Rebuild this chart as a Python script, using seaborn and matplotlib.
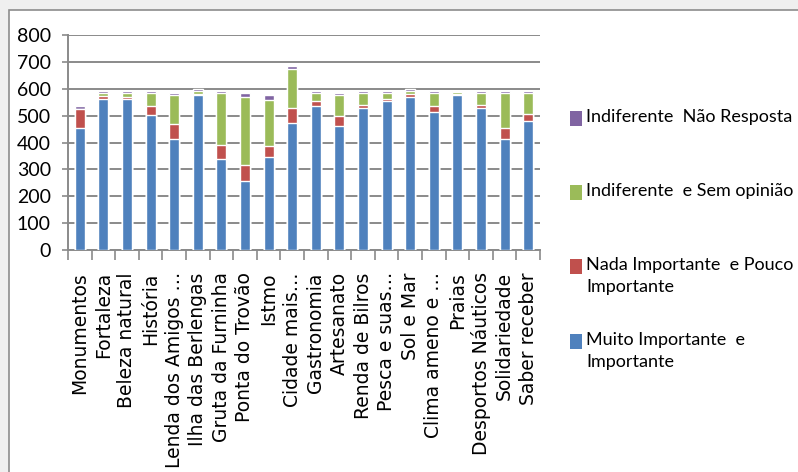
import numpy as np
import pandas as pd
import seaborn as sns
import matplotlib.pyplot as plt
from matplotlib.patches import Rectangle

# Categories (x axis)
categories = [
    "Monumentos", "Fortaleza", "Beleza natural", "História", "Lenda dos Amigos …",
    "Ilha das Berlengas", "Gruta da Furninha", "Ponta do Trovão", "Istmo", "Cidade mais…",
    "Gastronomia", "Artesanato", "Renda de Bilros", "Pesca e suas…", "Sol e Mar",
    "Clima ameno e …", "Praias", "Desportos Náuticos", "Solidariedade", "Saber receber",
]

# Responses per category, one list per answer group
muito_importante = [455, 563, 563, 501, 413, 575, 337, 255, 345, 474,
                    535, 460, 528, 556, 569, 515, 575, 528, 412, 481]
nada_importante = [68, 11, 6, 35, 55, 7, 55, 63, 41, 56,
                   21, 40, 13, 7, 13, 20, 5, 13, 41, 26]
sem_opiniao = [2, 9, 15, 48, 109, 10, 192, 251, 171, 143,
               28, 77, 43, 21, 10, 49, 8, 43, 131, 77]
nao_resposta = [12, 7, 8, 6, 7, 7, 8, 15, 20, 13,
                6, 7, 6, 6, 6, 6, 4, 6, 6, 6]

series_names = [
    "Muito Importante  e\nImportante",
    "Nada Importante  e Pouco\nImportante",
    "Indiferente  e Sem opinião",
    "Indiferente  Não Resposta",
]
colors = ["#4F81BD", "#C0504D", "#9BBB59", "#8064A2"]
y_ticks = [0, 100, 200, 300, 400, 500, 600, 700, 800]

sns.set_theme(style="white")
plt.rcParams["font.family"] = ["DejaVu Sans"]
narrow = ["Lato", "DejaVu Sans"]

W, H = 798, 472
fig = plt.figure(figsize=(W / 100, H / 100), dpi=100)
fig.patch.set_facecolor("#efefef")
fig.patches.append(Rectangle((9 / W, -0.1), 1.2, 1 - 10 / H + 0.1,
                             transform=fig.transFigure, facecolor="white",
                             edgecolor="#8c8c8c", linewidth=1.2, zorder=-5))

ax = fig.add_axes([68 / W, 1 - 250 / H, (540 - 68) / W, (250 - 35) / H])
ax.set_facecolor("none")

# Stacked bars: draw cumulative totals from the top layer down
layers = np.array([muito_importante, nada_importante, sem_opiniao, nao_resposta])
cumulative = np.cumsum(layers, axis=0)
for i in reversed(range(len(layers))):
    df = pd.DataFrame({"categoria": categories, "total": cumulative[i]})
    sns.barplot(data=df, x="categoria", y="total", order=categories,
                color=colors[i], saturation=1, width=0.42, errorbar=None,
                ax=ax, zorder=3)

grid_c = "#8a8a8a"
ax.set_ylim(0, 800)
ax.set_xlim(-0.5, len(categories) - 0.5)
ax.set_yticks(y_ticks)
ax.yaxis.grid(True, color=grid_c, linewidth=1.4)
ax.set_axisbelow(True)
for s in ["top", "right"]:
    ax.spines[s].set_visible(False)
for s in ["left", "bottom"]:
    ax.spines[s].set_color(grid_c)
    ax.spines[s].set_linewidth(1.4)
ax.set_xlabel("")
ax.set_ylabel("")

ax.set_xticks(range(len(categories)))
ax.set_xticklabels(categories, rotation=90, fontsize=13.5, color="black",
                   va="top", ha="center")
ax.set_xticks(np.arange(-0.5, len(categories)), minor=True)
ax.tick_params(axis="x", which="major", length=0, pad=16)
ax.tick_params(axis="x", which="minor", length=7.2, width=1.2,
               color=grid_c, direction="out", bottom=True)
ax.tick_params(axis="y", length=4.3, width=1.2, color=grid_c,
               direction="out", left=True, pad=8)
for lbl in ax.get_yticklabels():
    lbl.set_fontfamily(narrow)
    lbl.set_fontsize(14)
    lbl.set_color("black")

# Legend, top entry first
legend_rows = [(3, 119), (2, 193), (1, 267), (0, 342)]
for idx, yc in legend_rows:
    fig.patches.append(Rectangle((570 / W, 1 - (yc + 7) / H), 12 / W, 15 / H,
                                 transform=fig.transFigure,
                                 facecolor=colors[idx], edgecolor="none"))
    fig.text(586 / W, 1 - (yc - 10) / H, series_names[idx], ha="left",
             va="top", fontsize=13, family=narrow, color="black",
             linespacing=1.45)

fig.savefig("out.png", dpi=100)
